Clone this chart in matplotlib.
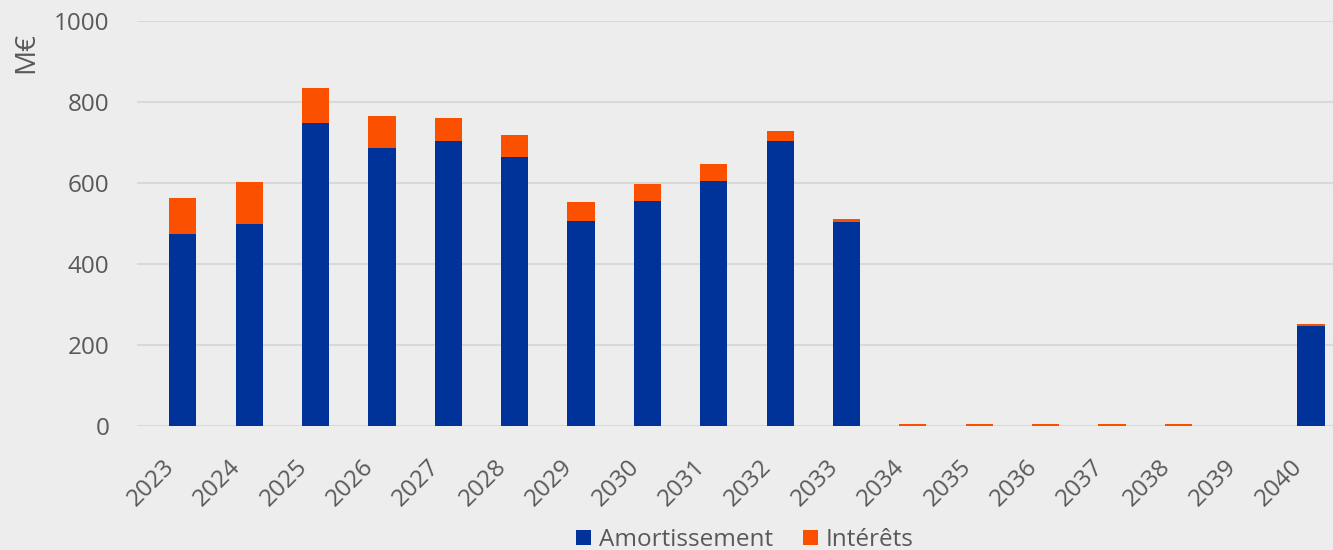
import numpy as np
import matplotlib.pyplot as plt
from matplotlib.transforms import ScaledTranslation

years = [str(y) for y in range(2023, 2041)]
amortissement = [474, 499, 748, 686, 704, 664, 506, 556, 605, 704, 504,
                 0, 0, 0, 0, 0, 0, 248]
interets = [89, 103, 87, 79, 56, 54, 47, 42, 42, 24, 7,
            4, 4, 4, 4, 4, 0, 4]

BLUE = '#003399'
ORANGE = '#FA5000'
BG = '#EDEDED'
TXT = '#595959'

plt.rcParams['font.family'] = ['Open Sans', 'DejaVu Sans']

fig = plt.figure(figsize=(13.33, 5.5), dpi=100, facecolor=BG)
ax = fig.add_axes([0.1028, 0.2255, 0.8972, 0.7363], facecolor=BG)

x = np.arange(len(years))
w = 0.41
ax.bar(x, amortissement, w, color=BLUE, label='Amortissement', zorder=3)
ax.bar(x, interets, w, bottom=amortissement, color=ORANGE, label='Intérêts', zorder=3)

ax.set_xlim(-0.69, len(years) - 1 + 0.33)
ax.set_ylim(0, 1000)
ax.set_yticks([0, 200, 400, 600, 800, 1000])
ax.grid(axis='y', color='#D9D9D9', linewidth=1.5, zorder=0)
ax.set_xticks(x)
ax.set_xticklabels(years, rotation=45, ha='right', va='center', rotation_mode='anchor')
ax.tick_params(axis='both', length=0, colors=TXT, labelsize=17.5)
ax.tick_params(axis='x', pad=27)
ax.tick_params(axis='y', pad=20)
# nudge rotated year labels left so they end just before the bar centre
shift = ScaledTranslation(-12 / 100, 0, fig.dpi_scale_trans)
for lab in ax.get_xticklabels():
    lab.set_transform(lab.get_transform() + shift)
for s in ax.spines.values():
    s.set_visible(False)

fig.text(0.0195, 0.905, 'M€', rotation=90, ha='center', va='center',
         fontsize=20, color=TXT)

leg = fig.legend(loc='center', bbox_to_anchor=(0.559, 1 - 540 / 550), ncol=2,
                 frameon=False, fontsize=17.5, handlelength=0.6, handleheight=0.6,
                 columnspacing=1.25, handletextpad=0.33, borderpad=0)
for t in leg.get_texts():
    t.set_color(TXT)

fig.savefig('out.png', dpi=100, facecolor=BG)
